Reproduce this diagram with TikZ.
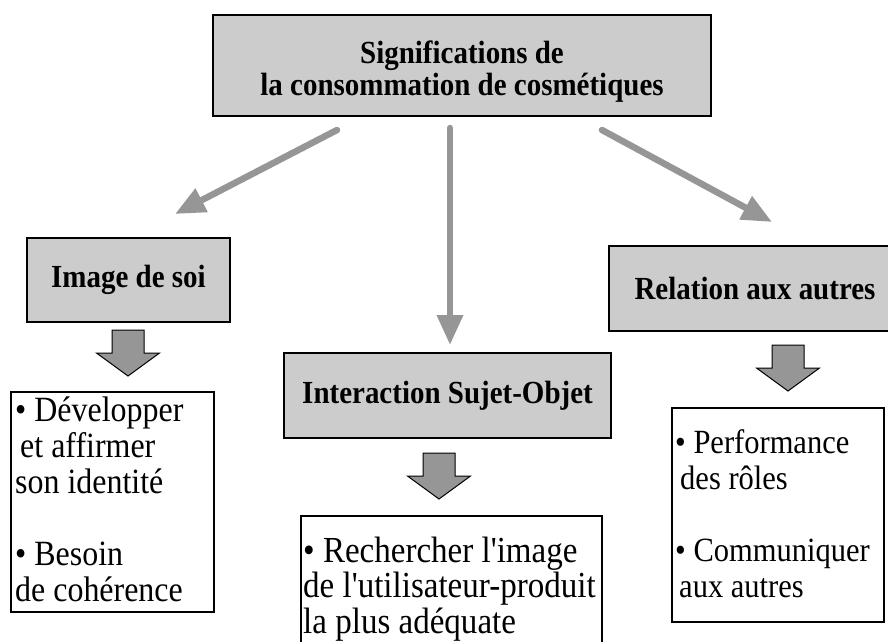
\documentclass[tikz,border=0pt]{standalone}
\usepackage{fontspec}
\setmainfont{Liberation Serif}[Ligatures=TeXOff, FakeStretch=0.9]
\usetikzlibrary{arrows.meta}
\definecolor{boxgray}{RGB}{204,204,204}
\definecolor{arrgray}{RGB}{150,150,150}
\definecolor{blkgray}{RGB}{150,150,150}
\begin{document}
\begin{tikzpicture}[x=1pt,y=-1pt,
  graybox/.style={draw=black, line width=1.5pt, fill=boxgray, inner sep=0pt,
    font=\fontsize{32.2}{32}\selectfont\bfseries, align=center},
  titletext/.style={inner sep=0pt, anchor=north, align=center,
    font=\fontsize{32.2}{32}\selectfont\bfseries},
  whitebox/.style={draw=black, line width=1.5pt, fill=white, inner sep=0pt},
  bodytext/.style={inner sep=0pt, anchor=north west, align=left},
  linkarrow/.style={draw=arrgray, line width=6.5pt, line cap=round,
    -{Triangle[length=30pt,width=25pt]}},
  blockarrow/.pic={\draw[line width=1pt, fill=blkgray, line join=miter]
    (-16,0) -- (16,0) -- (16,23) -- (31.5,23) -- (0,46) -- (-31.5,23) -- (-16,23) -- cycle;}
]
\useasboundingbox (0,0) rectangle (888,641);
\clip (0,0) rectangle (888,641);
\fill[white] (0,0) rectangle (888,641);

% top box
\node[graybox, minimum width=498pt, minimum height=101pt] (top) at (462,65.5) {};
\node[titletext] (toptext) at (462,38)
  {\rule{0pt}{25pt}Significations de\\la consommation de cosmétiques};

% category boxes
\node[graybox, minimum width=203pt, minimum height=84pt] (soi) at (128.5,280) {Image de soi};
\node[graybox, minimum width=327pt, minimum height=85pt] (inter) at (447.5,395.5) {Interaction Sujet-Objet};
\node[graybox, minimum width=292pt, minimum height=85pt] (rel) at (755,288.5) {Relation aux autres};

% arrows from top box
\coordinate (a1s) at (337,130); \coordinate (a1e) at (175,214);
\coordinate (a2s) at (450,128); \coordinate (a2e) at (450,345);
\coordinate (a3s) at (602,130); \coordinate (a3e) at (772,222);
\draw[linkarrow] (a1s) -- (a1e);
\draw[linkarrow] (a2s) -- (a2e);
\draw[linkarrow] (a3s) -- (a3e);

% block arrows
\pic at (128,330) {blockarrow};
\pic at (439,453) {blockarrow};
\pic at (788,345) {blockarrow};

% white boxes
\node[whitebox, minimum width=203pt, minimum height=220pt] (lbox) at (112.5,502) {};
\node[whitebox, minimum width=301pt, minimum height=164pt] (mbox) at (451.5,598) {};
\node[whitebox, minimum width=212pt, minimum height=214pt] (rbox) at (778,515) {};

\node[bodytext, font=\fontsize{35.5}{36}\selectfont] (ltext) at (15,391)
  {\rule{0pt}{30pt}• Développer\\\hspace{5pt}et affirmer\\son identité\\[36pt]• Besoin\\de cohérence};
\node[bodytext, font=\fontsize{36.7}{35.5}\selectfont] (mtext) at (303,532)
  {\rule{0pt}{30pt}• Rechercher l'image\\de l'utilisateur-produit\\la plus adéquate};
\node[bodytext, font=\fontsize{33.9}{36}\selectfont] (rtext) at (675,423)
  {\rule{0pt}{30pt}• Performance\\\hspace{5pt}des rôles\\[36pt]• Communiquer\\\hspace{4pt}aux autres};
\end{tikzpicture}
\end{document}
